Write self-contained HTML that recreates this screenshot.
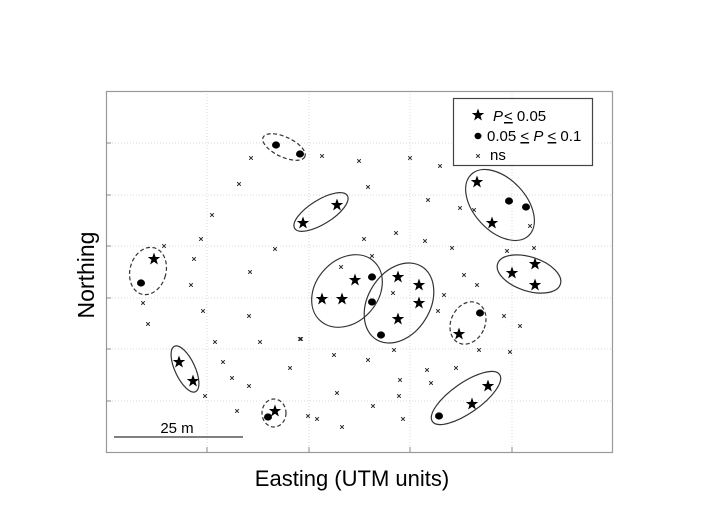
<!DOCTYPE html>
<html><head><meta charset="utf-8"><style>
html,body{margin:0;padding:0;background:#fff;}
svg{display:block;}
</style></head><body>
<svg id="s" width="703" height="528" viewBox="0 0 703 528" xmlns="http://www.w3.org/2000/svg" font-family="Liberation Sans, DejaVu Sans, sans-serif">
<defs>
<path id="star" d="M0,-6.5 L1.6,-2 6.2,-2 2.5,0.9 3.9,5.5 0,2.7 -3.9,5.5 -2.5,0.9 -6.2,-2 -1.6,-2Z" fill="#000"/>
<g id="xm"><path d="M-1.8,-1.8 L1.8,1.8 M-1.8,1.8 L1.8,-1.8" stroke="#222" stroke-width="1"/></g>
</defs>
<g stroke="#d8d8d8" stroke-width="1" stroke-dasharray="1,2" fill="none">
<line x1="106" y1="143" x2="613" y2="143"/><line x1="106" y1="195" x2="613" y2="195"/>
<line x1="106" y1="246" x2="613" y2="246"/><line x1="106" y1="298" x2="613" y2="298"/>
<line x1="106" y1="349" x2="613" y2="349"/><line x1="106" y1="401" x2="613" y2="401"/>
<line x1="207" y1="91" x2="207" y2="452"/><line x1="309" y1="91" x2="309" y2="452"/>
<line x1="410" y1="91" x2="410" y2="452"/><line x1="512" y1="91" x2="512" y2="452"/>
</g>
<rect x="106.5" y="91.5" width="506" height="361" fill="none" stroke="#999" stroke-width="1.2"/>
<g stroke="#888" stroke-width="1">
<line x1="106" y1="143" x2="111" y2="143"/><line x1="106" y1="195" x2="111" y2="195"/>
<line x1="106" y1="246" x2="111" y2="246"/><line x1="106" y1="298" x2="111" y2="298"/>
<line x1="106" y1="349" x2="111" y2="349"/><line x1="106" y1="401" x2="111" y2="401"/>
<line x1="207" y1="452" x2="207" y2="447"/><line x1="309" y1="452" x2="309" y2="447"/>
<line x1="410" y1="452" x2="410" y2="447"/><line x1="512" y1="452" x2="512" y2="447"/>
</g>
<g id="pts"></g>
<g fill="none" stroke="#333" stroke-width="1.2">
<ellipse cx="284" cy="147" rx="23" ry="10" transform="rotate(25 284 147)" stroke-dasharray="4,2.5"/>
<ellipse cx="321" cy="212" rx="31" ry="12" transform="rotate(-32 321 212)"/>
<ellipse cx="148" cy="271" rx="18" ry="24" transform="rotate(15 148 271)" stroke-dasharray="4,2.5"/>
<ellipse cx="500" cy="205" rx="42" ry="26" transform="rotate(47 500 205)"/>
<ellipse cx="529" cy="274" rx="33" ry="17" transform="rotate(18 529 274)"/>
<ellipse cx="347" cy="291" rx="40" ry="31" transform="rotate(-48 347 291)"/>
<ellipse cx="399" cy="303" rx="43" ry="31" transform="rotate(-58 399 303)"/>
<ellipse cx="468" cy="323" rx="17" ry="22" transform="rotate(25 468 323)" stroke-dasharray="4,2.5"/>
<ellipse cx="185" cy="369" rx="10" ry="25" transform="rotate(-25 185 369)"/>
<ellipse cx="274" cy="413" rx="12" ry="14" stroke-dasharray="4,2.5"/>
<ellipse cx="466" cy="398" rx="41" ry="15" transform="rotate(-35 466 398)"/>
</g>
<rect x="453.5" y="98.5" width="139" height="67" fill="#fff" stroke="#444" stroke-width="1.2"/>
<use href="#star" x="478" y="115"/>
<text x="493" y="121" font-size="15" font-style="italic">P</text>
<text x="504" y="121" font-size="15"><tspan text-decoration="underline">&lt;</tspan> 0.05</text>
<ellipse cx="478" cy="136" rx="3.5" ry="3.2" fill="#000"/>
<text x="487" y="141" font-size="15">0.05 <tspan text-decoration="underline">&lt;</tspan> <tspan font-style="italic">P</tspan> <tspan text-decoration="underline">&lt;</tspan> 0.1</text>
<use href="#xm" x="478" y="156"/>
<text x="490" y="160" font-size="15">ns</text>
<line x1="114" y1="437" x2="243" y2="437" stroke="#333" stroke-width="1.2"/>
<text x="177" y="433" font-size="15" text-anchor="middle">25 m</text>
<text x="0" y="0" font-size="23" text-anchor="middle" transform="translate(94 275) rotate(-90)">Northing</text>
<text x="352" y="486" font-size="22" text-anchor="middle">Easting (UTM units)</text>
</svg>
<script>
var g=document.getElementById('pts'),NS='http://www.w3.org/2000/svg';
var stars=[[154,259],[337,205],[303,223],[477,182],[492,223],[512,273],[535,264],[535,285],[322,299],[342,299],[355,280],[398,277],[419,285],[419,303],[398,319],[179,362],[193,381],[275,411],[472,404],[488,386],[459,334]];
var dots=[[276,145],[300,154],[509,201],[526,207],[141,283],[372,277],[372,302],[381,335],[480,313],[439,416],[268,417]];
var xs=[[251,158],[322,156],[359,161],[239,184],[212,215],[201,239],[164,246],[194,259],[275,249],[250,272],[341,267],[410,158],[440,166],[368,187],[428,200],[460,208],[474,210],[530,226],[364,239],[396,233],[425,241],[452,248],[507,251],[534,248],[372,256],[191,285],[143,303],[203,311],[249,316],[148,324],[215,342],[260,342],[300,339],[223,362],[334,355],[290,368],[232,378],[249,386],[205,396],[337,393],[237,411],[308,416],[317,419],[342,427],[464,275],[477,285],[393,293],[444,295],[438,311],[504,316],[520,326],[394,350],[368,360],[479,350],[510,352],[427,370],[456,368],[400,380],[431,383],[399,396],[373,406],[403,419],[301,339]];
xs.forEach(function(p){var u=document.createElementNS(NS,'use');u.setAttribute('href','#xm');u.setAttribute('x',p[0]);u.setAttribute('y',p[1]);g.appendChild(u);});
dots.forEach(function(p){var e=document.createElementNS(NS,'ellipse');e.setAttribute('cx',p[0]);e.setAttribute('cy',p[1]);e.setAttribute('rx',4);e.setAttribute('ry',3.6);e.setAttribute('fill','#000');g.appendChild(e);});
stars.forEach(function(p){var u=document.createElementNS(NS,'use');u.setAttribute('href','#star');u.setAttribute('x',p[0]);u.setAttribute('y',p[1]);g.appendChild(u);});
</script>
</body></html>
